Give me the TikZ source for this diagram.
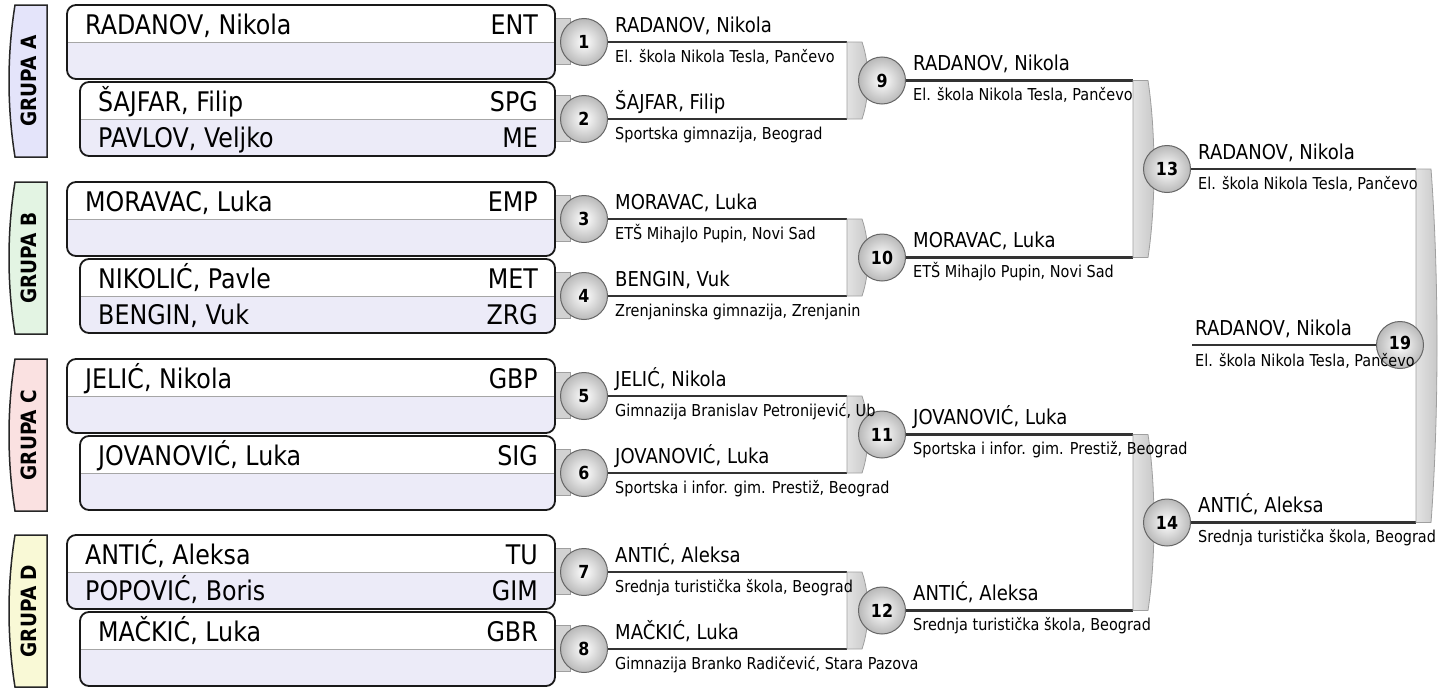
\documentclass[tikz,border=0pt]{standalone}
\usepackage{fontspec}
\setmainfont{DejaVu Sans}[FakeStretch=0.88]
\usetikzlibrary{calc, backgrounds}
\definecolor{rowlav}{HTML}{ECEBF8}
\definecolor{grpA}{HTML}{E4E4FA}
\definecolor{grpB}{HTML}{E3F4E3}
\definecolor{grpC}{HTML}{FAE1E1}
\definecolor{grpD}{HTML}{F9F9D6}

\begin{document}
\begin{tikzpicture}[x=1pt, y=-1pt,
  tab/.style={draw=black!85, line width=1.5pt},
  grupa/.style={font=\bfseries\fontsize{21}{21}\selectfont, inner sep=0pt},
  box/.style={draw=black!90, line width=1.8pt, rounded corners=9pt, inner sep=0pt, outer sep=0pt, anchor=north west},
  player/.style={font=\fontsize{27}{30}\selectfont, inner sep=0pt},
  match/.style={circle, draw=black!60, line width=1pt, minimum size=47pt, inner sep=0pt,
    inner color=white, outer color=gray!55, font=\bfseries\fontsize{18}{18}\selectfont},
  link/.style={draw=black!80, line width=2.6pt},
  bracket/.style={draw=gray!75, line width=0.8pt, left color=gray!22, right color=gray!45},
  stub/.style={draw=gray!75, line width=0.8pt, fill=gray!35},
  winner/.style={font=\fontsize{20.5}{22}\selectfont, inner sep=0pt, anchor=base west},
  school/.style={font=\fontsize{16.4}{18}\selectfont, inner sep=0pt, anchor=base west}]

  \useasboundingbox (0,0) rectangle (1450,688);

  % Group tabs
  \foreach \g/\gc/\lab in {5/grpA/A, 182/grpB/B, 359/grpC/C, 535/grpD/D} {
    \draw[tab, fill=\gc] (47,\g) -- (15,\g) .. controls (7,\g+50) and (7,\g+102) .. (15,\g+152) -- (47,\g+152) -- cycle;
    \node[grupa, rotate=90] (g\lab) at (29,\g+76) {GRUPA \lab};
  }

  % Player boxes
  \foreach \i/\bx/\by in {1/67/5, 2/80/82, 3/67/182, 4/80/259, 5/67/359, 6/80/436, 7/67/535, 8/80/612} {
    \begin{scope}
      \clip[rounded corners=9pt] (\bx,\by) rectangle (555,\by+74);
      \fill[rowlav] (\bx,\by) rectangle (555,\by+74);
      \fill[white] (\bx,\by) rectangle (555,\by+37);
    \end{scope}
    \draw[gray!70, line width=1pt] (\bx,\by+37) -- (555,\by+37);
    \node[box, minimum width={(555-\bx)*1pt}, minimum height=74pt] (b\i) at (\bx,\by) {};
  }

  % Players
  \foreach \px/\py/\who/\code [count=\n] in {67/34/{RADANOV, Nikola}/ENT, 80/111/{ŠAJFAR, Filip}/SPG,
      80/147/{PAVLOV, Veljko}/ME, 67/211/{MORAVAC, Luka}/EMP, 80/288/{NIKOLIĆ, Pavle}/MET,
      80/324/{BENGIN, Vuk}/ZRG, 67/388/{JELIĆ, Nikola}/GBP, 80/465/{JOVANOVIĆ, Luka}/SIG,
      67/564/{ANTIĆ, Aleksa}/TU, 67/600/{POPOVIĆ, Boris}/GIM, 80/641/{MAČKIĆ, Luka}/GBR} {
    \node[player, anchor=base west] (p\n) at (\px+18,\py) {\who};
    \node[player, anchor=base east] (c\n) at (538,\py) {\code};
  }

  % Matches
  \foreach \n/\mx/\my in {1/584/42, 2/584/119, 3/584/219, 4/584/296, 5/584/396, 6/584/473,
      7/584/572, 8/584/649, 9/882/80.5, 10/882/257.5, 11/882/434.5, 12/882/610.5,
      13/1167/169, 14/1167/522.5}
    \node[match] (m\n) at (\mx,\my) {\n};
  \node[match] (m19) at (1400,345) {\raisebox{4pt}{19}};

  \coordinate (j1) at (847,0);
  \coordinate (j2) at (1133,0);
  \coordinate (j3) at (1416,0);
  \coordinate (k19) at (1192,345);

  \begin{scope}[on background layer]
    % Stubs
    \foreach \n in {1,...,8}
      \draw[stub] ($(m\n)+(-31,-24)$) rectangle ($(m\n)+(-14,22)$);
    % Links
    \foreach \n/\j in {1/1, 2/1, 3/1, 4/1, 5/1, 6/1, 7/1, 8/1, 9/2, 10/2, 11/2, 12/2, 13/3, 14/3}
      \draw[link] (m\n) -- (m\n -| j\j);
    \draw[link] (m19) -- (k19);
    % Brackets
    \foreach \x/\ya/\yb in {847/42/119, 847/219/296, 847/396/473, 847/572/649,
        1133/80.5/257.5, 1133/434.5/610.5, 1416/169/522.5}
      \draw[bracket] (\x,\ya) -- (\x+15,\ya) .. controls (\x+23,{\ya+0.3*(\yb-\ya)}) and (\x+23,{\yb-0.3*(\yb-\ya)}) .. (\x+15,\yb) -- (\x,\yb) -- cycle;
  \end{scope}

  % Winners
  \foreach \n/\who/\sch in {1/{RADANOV, Nikola}/{El. škola Nikola Tesla, Pančevo},
      2/{ŠAJFAR, Filip}/{Sportska gimnazija, Beograd},
      3/{MORAVAC, Luka}/{ETŠ Mihajlo Pupin, Novi Sad},
      4/{BENGIN, Vuk}/{Zrenjaninska gimnazija, Zrenjanin},
      5/{JELIĆ, Nikola}/{Gimnazija Branislav Petronijević, Ub},
      6/{JOVANOVIĆ, Luka}/{Sportska i infor. gim. Prestiž, Beograd},
      7/{ANTIĆ, Aleksa}/{Srednja turistička škola, Beograd},
      8/{MAČKIĆ, Luka}/{Gimnazija Branko Radičević, Stara Pazova},
      9/{RADANOV, Nikola}/{El. škola Nikola Tesla, Pančevo},
      10/{MORAVAC, Luka}/{ETŠ Mihajlo Pupin, Novi Sad},
      11/{JOVANOVIĆ, Luka}/{Sportska i infor. gim. Prestiž, Beograd},
      12/{ANTIĆ, Aleksa}/{Srednja turistička škola, Beograd},
      13/{RADANOV, Nikola}/{El. škola Nikola Tesla, Pančevo},
      14/{ANTIĆ, Aleksa}/{Srednja turistička škola, Beograd}} {
    \node[winner] (w\n) at ($(m\n)+(31,-10)$) {\who};
    \node[school] (s\n) at ($(m\n)+(31,20)$) {\sch};
  }
  \node[winner] (w19) at ($(k19)+(3,-10)$) {RADANOV, Nikola};
  \node[school] (s19) at ($(k19)+(3,21)$) {El. škola Nikola Tesla, Pančevo};
\end{tikzpicture}
\end{document}
